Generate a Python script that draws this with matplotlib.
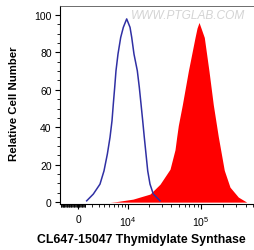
import matplotlib
import numpy as np

matplotlib.use("Agg")
import matplotlib.pyplot as plt
from matplotlib.ticker import FixedLocator, NullFormatter

plt.rcParams["font.family"] = ["Liberation Sans", "DejaVu Sans"]
plt.rcParams["mathtext.default"] = "regular"

# control (unstained) histogram, blue outline
ctrl_x = [1200, 2170, 3240, 3950, 4590, 5130, 5560, 5850, 6170, 6480, 6980,
          7700, 8450, 9490, 10630, 11250, 12130, 13530, 14440, 15260, 16110,
          16960, 17910, 18920, 20350, 22600, 27930]
ctrl_y = [0.7, 4.3, 9.6, 16.7, 25.7, 34.6, 43.5, 52.4, 61.3, 70.2, 79.1,
          88, 93.4, 97.9, 93.4, 88, 79.1, 70.2, 61.3, 52.4, 43.5,
          34.6, 25.7, 16.7, 9.6, 4.3, 0.7]

# stained histogram, red fill
stain_x = [5130, 6660, 11740, 20350, 27930, 38180, 44620, 47100, 49500, 56060,
           67560, 83260, 88600, 94260, 100300, 111060, 128500, 146960, 171600,
           206700, 246800, 319400, 414600]
stain_y = [0, 0.3, 1.6, 4.3, 9.6, 17.6, 28, 35, 41, 52,
           70, 88, 93, 96, 93, 88, 70, 52, 35,
           17, 8, 2.7, 0]

major_x = [0, 1e4, 1e5]
major_lbl = ["0", "$10^4$", "$10^5$"]
minor_x = ([-v for v in range(100, 2600, 100)] + list(range(100, 1000, 100))
           + [i * 1000 for i in range(1, 10)] + [i * 10000 for i in range(2, 10)]
           + [i * 100000 for i in range(2, 6)])

fig = plt.figure(figsize=(2.54, 2.51), dpi=100)
ax = fig.add_axes([60 / 254, 46 / 251, 194 / 254, 198 / 251])

ax.fill_between(stain_x, stain_y, 0, color="#ff0000", lw=0, zorder=2)
ax.plot(ctrl_x, ctrl_y, color="#3030a4", lw=1.1, zorder=3)

ax.set_xscale("asinh", linear_width=4400)
ax.set_xlim(-2590, 520000)
ax.set_ylim(-1, 104.8)

ax.xaxis.set_major_locator(FixedLocator(major_x))
ax.set_xticklabels(major_lbl)
ax.xaxis.set_minor_locator(FixedLocator(minor_x))
ax.xaxis.set_minor_formatter(NullFormatter())
ax.set_yticks([0, 20, 40, 60, 80, 100])
ax.yaxis.set_minor_locator(FixedLocator(np.arange(0, 101, 5)))

ax.tick_params(axis="both", which="major", length=3.5, width=0.8, labelsize=7.5, pad=2.5)
ax.tick_params(axis="both", which="minor", length=2, width=0.6)
ax.tick_params(axis="x", which="major", pad=4)

ax.spines["right"].set_visible(False)
ax.spines["top"].set_color("#555555")
ax.spines["top"].set_linewidth(0.6)
ax.spines["left"].set_linewidth(0.8)
ax.spines["bottom"].set_linewidth(0.8)

ax.set_ylabel("Relative Cell Number", fontsize=8.2, fontweight="bold", va="center")
ax.yaxis.set_label_coords(-0.237, 0.51)
ax.set_xlabel("CL647-15047 Thymidylate Synthase", fontsize=8.8, fontweight="bold", va="center")
ax.xaxis.set_label_coords(0.42, -0.177)

ax.text(0.66, 0.955, "WWW.PTGLAB.COM", transform=ax.transAxes, fontsize=8.6,
        color="#d4d4d4", ha="center", va="center", style="italic")

fig.savefig("out.png", dpi=100)
